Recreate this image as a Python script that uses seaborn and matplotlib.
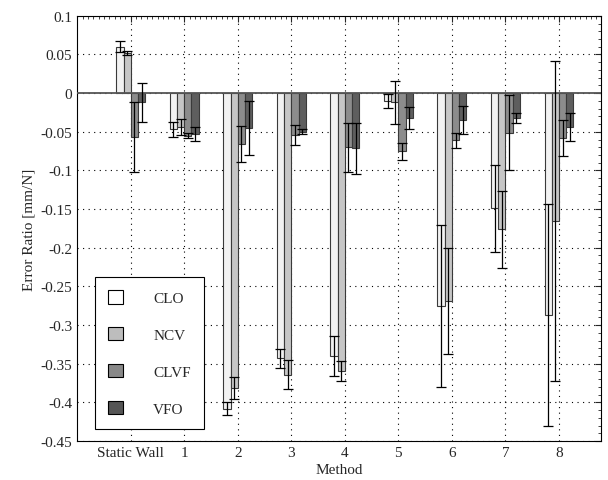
import numpy as np
import pandas as pd
import matplotlib
matplotlib.use('Agg')
import matplotlib.pyplot as plt
from matplotlib.ticker import MultipleLocator, FuncFormatter
from matplotlib.patches import Patch
import seaborn as sns

# data (bar = mean, error = +/- std)
methods = ['Static Wall', '1', '2', '3', '4', '5', '6', '7', '8']
series = ['CLO', 'NCV', 'CLVF', 'VFO']

clo_mean = [0.060, -0.047, -0.408, -0.343, -0.340, -0.010, -0.275, -0.149, -0.287]
clo_err = [0.007, 0.0095, 0.008, 0.012, 0.026, 0.0095, 0.105, 0.056, 0.143]
ncv_mean = [0.052, -0.044, -0.381, -0.364, -0.359, -0.012, -0.269, -0.176, -0.165]
ncv_err = [0.003, 0.010, 0.014, 0.019, 0.013, 0.028, 0.069, 0.050, 0.207]
clvf_mean = [-0.057, -0.055, -0.066, -0.054, -0.070, -0.075, -0.061, -0.051, -0.058]
clvf_err = [0.045, 0.0035, 0.023, 0.0125, 0.032, 0.011, 0.010, 0.049, 0.023]
vfo_mean = [-0.012, -0.053, -0.045, -0.050, -0.071, -0.032, -0.035, -0.032, -0.044]
vfo_err = [0.025, 0.009, 0.035, 0.003, 0.033, 0.0145, 0.018, 0.006, 0.018]

bar_colors = ['#f2f2f2', '#c6c6c6', '#8c8c8c', '#5e5e5e']
legend_colors = ['#ffffff', '#bdbdbd', '#888888', '#555555']

means = [clo_mean, ncv_mean, clvf_mean, vfo_mean]
errs = [clo_err, ncv_err, clvf_err, vfo_err]

rows = []
for s, m, e in zip(series, means, errs):
    for g, v, d in zip(methods, m, e):
        rows.append({'Method': g, 'Series': s, 'value': v, 'err': d})
df = pd.DataFrame(rows)

sns.set_style("white")
plt.rcParams['font.family'] = ['Liberation Serif', 'DejaVu Serif']
plt.rcParams['axes.unicode_minus'] = False
plt.rcParams['font.size'] = 11

fig = plt.figure(figsize=(6.08, 4.81), dpi=100)
ax = fig.add_axes([0.127, 0.081, 0.861, 0.884])

sns.barplot(data=df, x='Method', y='value', hue='Series', order=methods,
            hue_order=series, palette=bar_colors, saturation=1, width=0.54,
            errorbar=None, edgecolor='#3a3a3a', linewidth=0.8, ax=ax, zorder=2)

# error bars on top of each bar
for cont, s in zip(ax.containers, series):
    sub = df[df['Series'] == s].set_index('Method').loc[methods]
    xs = [b.get_x() + b.get_width() / 2 for b in cont]
    ax.errorbar(xs, sub['value'].values, yerr=sub['err'].values, fmt='none',
                ecolor='black', elinewidth=0.9, capsize=3.6, capthick=0.9, zorder=4)

ax.axhline(0, color='#555555', linewidth=1.3, zorder=3)

ax.set_xlim(-1.0, 8.78)
ax.set_ylim(-0.45, 0.1)
ax.yaxis.set_major_locator(MultipleLocator(0.05))
ax.yaxis.set_minor_locator(MultipleLocator(0.01))
ax.xaxis.set_minor_locator(MultipleLocator(0.1))
ax.yaxis.set_major_formatter(FuncFormatter(lambda v, p: f'{v:.2f}'.rstrip('0').rstrip('.') if abs(v) > 1e-9 else '0'))

ax.grid(True, which='major', linestyle=(0, (1, 4)), color='black', linewidth=0.8)
ax.set_axisbelow(True)
ax.tick_params(which='both', direction='in', top=True, right=True, labelsize=11)
ax.tick_params(which='major', length=4)
ax.tick_params(which='minor', length=2)
for sp in ax.spines.values():
    sp.set_color('black')
    sp.set_linewidth(0.8)

ax.set_xlabel('Method', fontsize=11, labelpad=3)
ax.set_ylabel('Error Ratio [mm/N]', fontsize=11)

handles = [Patch(facecolor=c, edgecolor='black', linewidth=0.8) for c in legend_colors]
leg = ax.legend(handles, series, loc='lower left', bbox_to_anchor=(0.034, 0.028),
                fancybox=False, edgecolor='black', framealpha=1, fontsize=11,
                handlelength=0.95, handleheight=0.95, labelspacing=1.45,
                borderpad=0.85, handletextpad=2.0, borderaxespad=0)
leg.get_frame().set_linewidth(0.8)

fig.savefig('out.png', dpi=100)
